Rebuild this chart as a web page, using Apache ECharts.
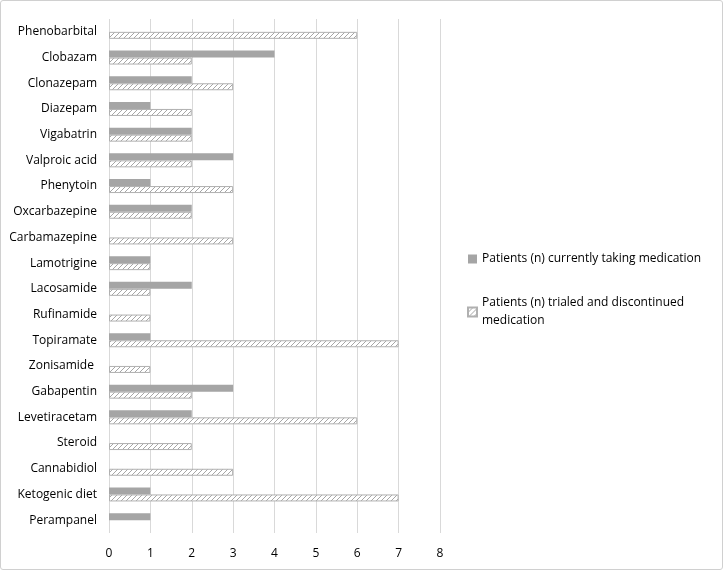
<!DOCTYPE html>
<html><head><meta charset="utf-8">
<script src="https://cdn.jsdelivr.net/npm/echarts@6/dist/echarts.min.js"></script>
<style>
html,body{margin:0;padding:0;background:#fff;}
#c{width:721px;height:568px;border:1px solid #d0d0d0;border-radius:3px;}
</style></head><body>
<div id="c"></div>
<script>
const categories = ["Phenobarbital","Clobazam","Clonazepam","Diazepam","Vigabatrin","Valproic acid","Phenytoin","Oxcarbazepine","Carbamazepine","Lamotrigine","Lacosamide","Rufinamide","Topiramate","Zonisamide ","Gabapentin","Levetiracetam","Steroid","Cannabidiol","Ketogenic diet","Perampanel"];
const current = [0,4,2,1,2,3,1,2,0,1,2,0,1,0,3,2,0,0,1,1];
const trialed = [6,2,3,2,2,2,3,2,3,1,1,1,7,1,2,6,2,3,7,0];
const xTicks = [0,1,2,3,4,5,6,7,8];

function hatch(){
  const cv = document.createElement('canvas');
  cv.width = 5; cv.height = 5;
  const g = cv.getContext('2d');
  g.fillStyle = '#fff'; g.fillRect(0,0,5,5);
  g.strokeStyle = '#a6a6a6'; g.lineWidth = 1;
  g.beginPath();
  g.moveTo(-1,6); g.lineTo(6,-1);
  g.moveTo(-1,1); g.lineTo(1,-1);
  g.moveTo(4,6); g.lineTo(6,4);
  g.stroke();
  return {image: cv, repeat: 'repeat'};
}
const chart = echarts.init(document.getElementById('c'));
const font = '"Open Sans", "Noto Sans", sans-serif';
chart.setOption({
  animation:false,
  textStyle:{fontFamily:font},
  grid:{left:108,right:282,top:18,bottom:36,containLabel:false},
  xAxis:{type:'value',min:0,max:8,interval:1,
    axisLine:{show:false},axisTick:{show:false},
    splitLine:{lineStyle:{color:'#d9d9d9',width:1}},
    axisLabel:{color:'#000',fontSize:12,fontFamily:font,margin:15,formatter:v=>xTicks.includes(v)?String(v):''}},
  yAxis:{type:'category',data:categories,inverse:true,
    axisLine:{show:false},axisTick:{show:false},
    axisLabel:{color:'#000',fontSize:12,fontFamily:font,margin:12}},
  legend:{orient:'vertical',left:461,top:244,itemWidth:9,itemHeight:9,itemGap:26,
    textStyle:{color:'#000',fontSize:12,fontFamily:font,lineHeight:18},
    data:[{name:'Patients (n) currently taking medication',icon:'rect'},
          {name:'Patients (n) trialed and discontinued\nmedication',icon:'rect'}]},
  series:[
    {name:'Patients (n) currently taking medication',type:'bar',data:current.map(v=>v===0?'-':v),
     barWidth:7,barGap:'0%',itemStyle:{color:'#a5a5a5'}},
    {name:'Patients (n) trialed and discontinued\nmedication',type:'bar',data:trialed.map(v=>v===0?'-':v),
     barWidth:7,barGap:'0%',itemStyle:{color:hatch(),borderColor:'#b0b0b0',borderWidth:1}}
  ]
});
</script></body></html>
